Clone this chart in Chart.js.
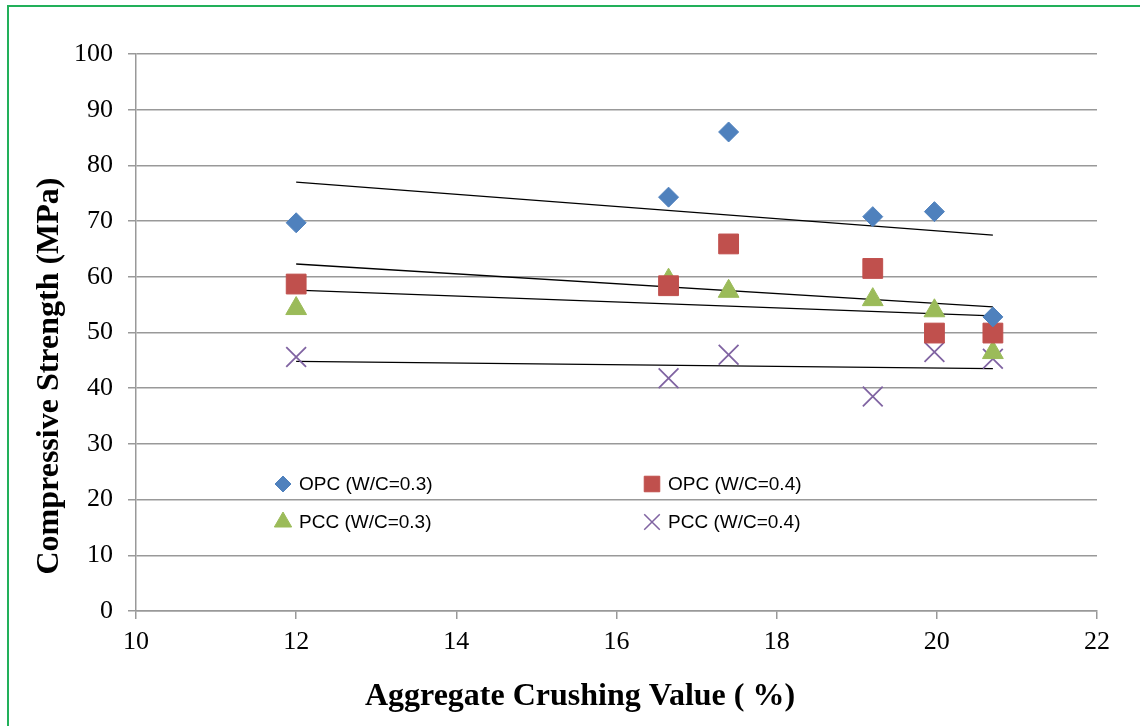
<!DOCTYPE html>
<html>
<head>
<meta charset="utf-8">
<script src="https://cdn.jsdelivr.net/npm/chart.js@4.4.1/dist/chart.umd.min.js"></script>
<style>
  html, body { margin: 0; padding: 0; background: #fff; overflow: hidden; }
  #wrap { position: relative; width: 1140px; height: 726px; }
  #frame { position: absolute; left: 7px; top: 5px; width: 1200px; height: 800px; border: 2px solid #22b05a; pointer-events: none; }
  canvas { position: absolute; left: 0; top: 0; }
</style>
</head>
<body>
<div id="wrap">
  <canvas id="chart" width="1140" height="726"></canvas>
  <div id="frame"></div>
</div>
<script>
// aggregate crushing value (%) for each mix
const acv = [12, 16.65, 17.4, 19.2, 19.97, 20.7];

const opc03 = [69.7, 74.3, 86.0, 70.8, 71.7, 52.8];
const opc04 = [58.7, 58.4, 65.9, 61.5, 49.9, 49.9];
const pcc03 = [54.3, 59.4, 57.4, 55.9, 53.9, 46.4];
const pcc04 = [45.6, 41.8, 46.0, 38.5, 46.5, 45.3];

// linear trendlines, ends
const trendX = [12, 20.7];
const trendOpc03 = [77.0, 67.5];
const trendOpc04 = [62.3, 54.6];
const trendPcc03 = [57.6, 53.0];
const trendPcc04 = [44.8, 43.5];

const seriesLabels = ['OPC (W/C=0.3)', 'OPC (W/C=0.4)', 'PCC (W/C=0.3)', 'PCC (W/C=0.4)'];
const yTicks = [0, 10, 20, 30, 40, 50, 60, 70, 80, 90, 100];
const xTicks = [10, 12, 14, 16, 18, 20, 22];
const xTitle = 'Aggregate Crushing Value ( %)';
const yTitle = 'Compressive Strength (MPa)';

const serif = '"Liberation Serif", "Times New Roman", serif';

function toPoints(xs, ys) {
    return xs.map(function(x, i) { return { x: x, y: ys[i] }; });
}

function trend(ys) {
    return {
        type: 'line',
        data: toPoints(trendX, ys),
        borderColor: '#000',
        borderWidth: 1.3,
        pointRadius: 0,
        showLine: true,
        fill: false
    };
}

const markers = [
    { label: seriesLabels[0], data: toPoints(acv, opc03), pointStyle: 'rectRot', pointRadius: 10, backgroundColor: '#4f81bd', borderColor: '#4f81bd', borderWidth: 1 },
    { label: seriesLabels[1], data: toPoints(acv, opc04), pointStyle: 'rect', pointRadius: 14, backgroundColor: '#c0504d', borderColor: '#c0504d', borderWidth: 1 },
    { label: seriesLabels[2], data: toPoints(acv, pcc03), pointStyle: 'triangle', pointRadius: 12, backgroundColor: '#9bbb59', borderColor: '#9bbb59', borderWidth: 1 },
    { label: seriesLabels[3], data: toPoints(acv, pcc04), pointStyle: 'crossRot', pointRadius: 14, backgroundColor: '#8064a2', borderColor: '#8064a2', borderWidth: 1.8 }
];

// legend sits inside the plot, two columns
const insideLegend = {
    id: 'insideLegend',
    afterDraw: function(chart) {
        const ctx = chart.ctx;
        const cols = [283, 652];
        const rows = [484, 522];
        ctx.save();
        ctx.font = '19px "Liberation Sans", Arial, sans-serif';
        ctx.textBaseline = 'middle';
        markers.forEach(function(ds, i) {
            const x = cols[i % 2];
            const y = rows[Math.floor(i / 2)];
            ctx.fillStyle = ds.backgroundColor;
            ctx.strokeStyle = ds.borderColor;
            ctx.lineWidth = i === 3 ? 1.5 : 1;
            const r = i === 0 ? 8 : (i === 1 ? 11 : (i === 2 ? 10 : 11));
            Chart.helpers.drawPoint(ctx, { pointStyle: ds.pointStyle, radius: r, rotation: 0, borderWidth: ctx.lineWidth }, x, y);
            ctx.fillStyle = '#000';
            ctx.fillText(ds.label, x + 16, y + 1);
        });
        ctx.restore();
    }
};

// axis titles are off-centre in the original, so draw them by hand
const axisTitles = {
    id: 'axisTitles',
    afterDraw: function(chart) {
        const ctx = chart.ctx;
        ctx.save();
        ctx.font = 'bold 32px ' + serif;
        ctx.fillStyle = '#000';
        ctx.textAlign = 'center';
        ctx.textBaseline = 'middle';
        ctx.fillText(xTitle, 580, 697);
        ctx.translate(50, 376);
        ctx.rotate(-Math.PI / 2);
        ctx.fillText(yTitle, 0, 0);
        ctx.restore();
    }
};

const ctx = document.getElementById('chart').getContext('2d');
new Chart(ctx, {
    type: 'scatter',
    data: {
        datasets: markers.concat([trend(trendOpc03), trend(trendOpc04), trend(trendPcc03), trend(trendPcc04)])
    },
    options: {
        responsive: false,
        animation: false,
        layout: { padding: { top: 54, right: 43, left: 0, bottom: 0 } },
        plugins: {
            legend: { display: false },
            tooltip: { enabled: false }
        },
        scales: {
            x: {
                type: 'linear',
                min: 10,
                max: 22,
                afterBuildTicks: function(axis) { axis.ticks = xTicks.map(function(v) { return { value: v }; }); },
                afterFit: function(axis) { axis.height = 115; },
                grid: { drawOnChartArea: false, drawTicks: true, tickLength: 8, color: '#999', lineWidth: 1.5 },
                border: { color: '#999', width: 1.5 },
                ticks: { color: '#000', padding: 8, font: { family: serif, size: 26 } }
            },
            y: {
                type: 'linear',
                min: 0,
                max: 100,
                afterBuildTicks: function(axis) { axis.ticks = yTicks.map(function(v) { return { value: v }; }); },
                afterFit: function(axis) { axis.width = 136; },
                grid: { drawTicks: true, tickLength: 8, color: '#999', lineWidth: 1.5 },
                border: { color: '#999', width: 1.5 },
                ticks: { color: '#000', padding: 15, font: { family: serif, size: 26 } }
            }
        }
    },
    plugins: [insideLegend, axisTitles]
});
</script>
</body>
</html>
